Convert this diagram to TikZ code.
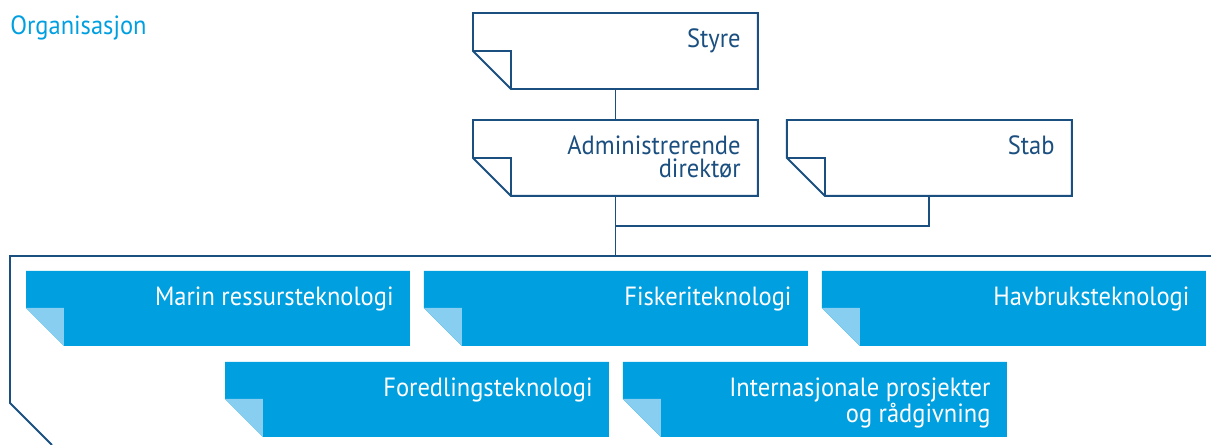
\documentclass[tikz,border=0pt]{standalone}
\usepackage{fontspec}
\setmainfont{PT Sans}[FakeStretch=0.93]
\usepackage{tikz}
\usetikzlibrary{positioning,calc}

\definecolor{navy}{RGB}{27,79,128}
\definecolor{sjoblue}{RGB}{0,159,224}
\definecolor{foldblue}{RGB}{135,206,240}

\newcommand{\boxfont}{\fontsize{15pt}{13.6pt}\selectfont}

\tikzset{
	box/.style={minimum width=5.7cm, minimum height=1.52cm, inner sep=0pt, outer sep=0pt},
	wbox/.style={box, minimum width=7.68cm, minimum height=1.5cm},
	dtxt/.style={anchor=north east, inner sep=0pt, align=right, text=navy, font=\boxfont},
	btxt/.style={dtxt, text=white},
	line/.style={draw=navy, line width=1.1pt},
}

\newcommand{\darkfold}[1]{%
	\draw[line, fill=white] (#1.north west) -- (#1.north east) -- (#1.south east)
		-- ($(#1.south west)+(0.76cm,0)$) -- ($(#1.south west)+(0,0.76cm)$) -- cycle;
	\draw[line] ($(#1.south west)+(0,0.76cm)$) -- ($(#1.south west)+(0.76cm,0.76cm)$) -- ($(#1.south west)+(0.76cm,0)$);
}
\newcommand{\bluefold}[1]{%
	\fill[sjoblue] (#1.north west) -- (#1.north east) -- (#1.south east)
		-- ($(#1.south west)+(0.76cm,0)$) -- ($(#1.south west)+(0,0.76cm)$) -- cycle;
	\fill[foldblue] ($(#1.south west)+(0,0.76cm)$) -- ($(#1.south west)+(0.76cm,0.76cm)$) -- ($(#1.south west)+(0.76cm,0)$) -- cycle;
}

\begin{document}
\begin{tikzpicture}[x=0.02cm, y=-0.02cm]
		\useasboundingbox (0,0) rectangle (1211,445);

		\node(org)[anchor=north west, inner sep=0pt, text=sjoblue, font=\boxfont] at (10,15){Organisasjon};

		\node(styre)[box, anchor=north west] at (473,13){};
		\node(adm)[box, below=0.62cm of styre]{};
		\node(stab)[box, right=0.58cm of adm]{};
		\coordinate(frame) at (10,256);
		\coordinate(join) at ($(adm.south)+(0,-0.6cm)$);

		\draw[line] (styre) -- (adm);
		\draw[line] (adm) -- (adm |- frame);
		\draw[line] (stab.south) |- (join);
		\draw[line] (1211,256) -- (frame) -- (10,403) -- (52,445);

		\darkfold{styre}
		\darkfold{adm}
		\darkfold{stab}

		\node(marin)[wbox, anchor=north west] at (26,271){};
		\node(fisk)[wbox, right=0.28cm of marin]{};
		\node(havbruk)[wbox, right=0.28cm of fisk]{};
		\node(foredl)[wbox, anchor=north west] at (225,362){};
		\node(intl)[wbox, right=0.28cm of foredl]{};

		\bluefold{marin}
		\bluefold{fisk}
		\bluefold{havbruk}
		\bluefold{foredl}
		\bluefold{intl}

		\node(styretxt)[dtxt] at ([xshift=-0.34cm, yshift=-0.3cm]styre.north east){Styre};
		\node(admtxt)[dtxt] at ([xshift=-0.34cm, yshift=-0.3cm]adm.north east){Administrerende\\direktør};
		\node(stabtxt)[dtxt] at ([xshift=-0.34cm, yshift=-0.3cm]stab.north east){Stab};
		\node(marintxt)[btxt] at ([xshift=-0.32cm, yshift=-0.3cm]marin.north east){Marin ressursteknologi};
		\node(fisktxt)[btxt] at ([xshift=-0.32cm, yshift=-0.3cm]fisk.north east){Fiskeriteknologi};
		\node(havbruktxt)[btxt] at ([xshift=-0.32cm, yshift=-0.3cm]havbruk.north east){Havbruksteknologi};
		\node(foredltxt)[btxt] at ([xshift=-0.32cm, yshift=-0.3cm]foredl.north east){Foredlingsteknologi};
		\node(intltxt)[btxt] at ([xshift=-0.32cm, yshift=-0.3cm]intl.north east){Internasjonale prosjekter\\og rådgivning};
	\end{tikzpicture}
\end{document}
